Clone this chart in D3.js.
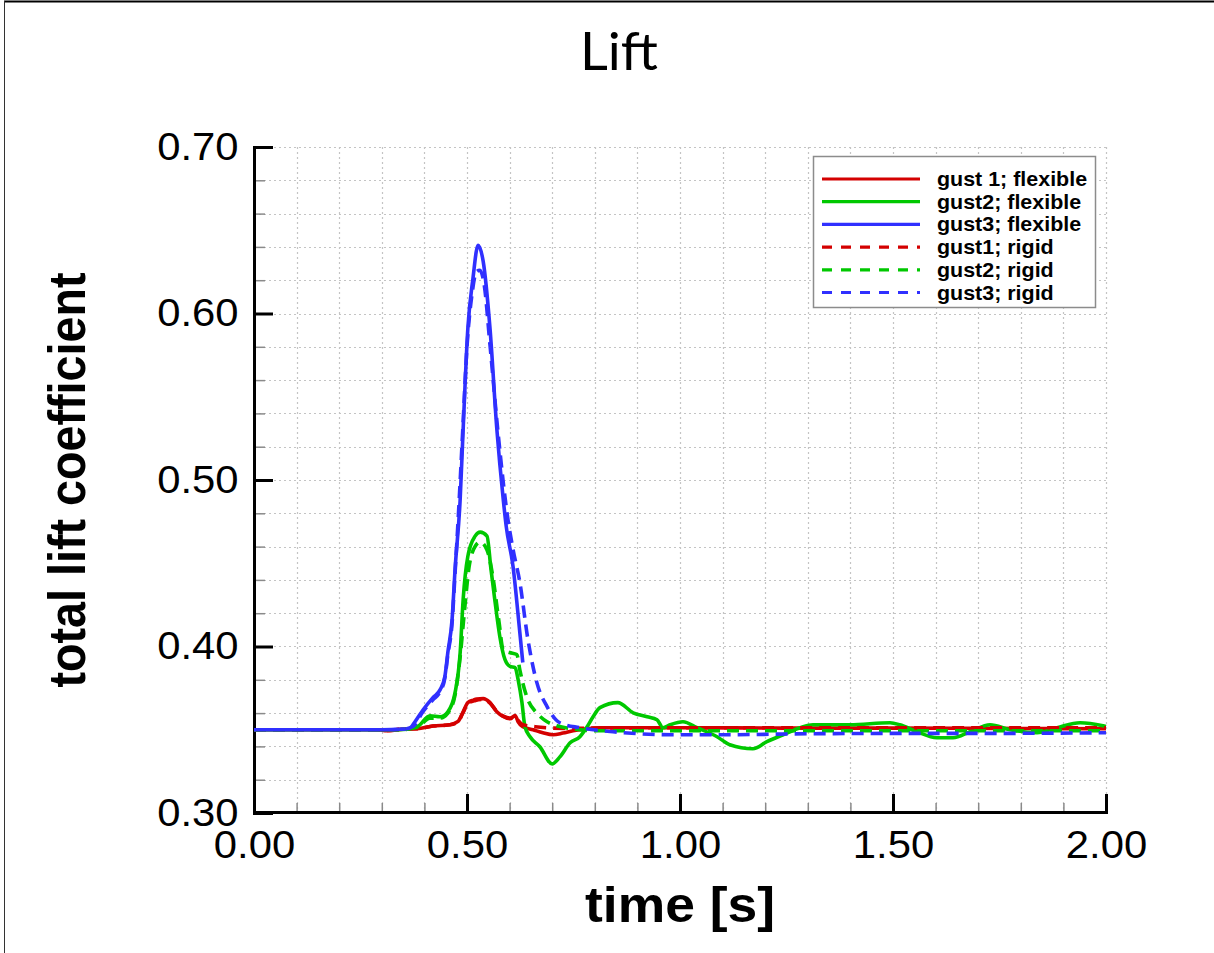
<!DOCTYPE html>
<html>
<head>
<meta charset="utf-8">
<script src="https://cdn.jsdelivr.net/npm/d3@7"></script>
<style>
  body { margin: 0; background: #ffffff; }
  svg { display: block; }
</style>
</head>
<body>
<div class="chart"></div>
<script>

// ---- chart data ----
const xMajorTicks = [0.00, 0.50, 1.00, 1.50, 2.00];
const yMajorTicks = [0.30, 0.40, 0.50, 0.60, 0.70];

const seriesNames = ["gust 1; flexible", "gust2; flexible", "gust3; flexible",
                     "gust1; rigid", "gust2; rigid", "gust3; rigid"];

// [time (s), total lift coefficient]
const gust1Flexible = [
  [0.00, 0.3500], [0.29, 0.3500], [0.312, 0.3494], [0.35, 0.3504], [0.383, 0.3506],
  [0.42, 0.3522], [0.46, 0.3530], [0.479, 0.3550], [0.491, 0.3608], [0.502, 0.3663],
  [0.515, 0.3678], [0.523, 0.3684], [0.538, 0.3687], [0.554, 0.3663], [0.570, 0.3608],
  [0.585, 0.3580], [0.601, 0.3566], [0.613, 0.3586], [0.620, 0.3548], [0.631, 0.3518],
  [0.655, 0.3500], [0.678, 0.3482], [0.702, 0.3470], [0.725, 0.3480], [0.749, 0.3494],
  [0.782, 0.3506], [0.812, 0.3512], [1.00, 0.3512], [1.25, 0.3510], [1.50, 0.3510],
  [1.75, 0.3508], [2.00, 0.3506]
];

const gust2Flexible = [
  [0.00, 0.3500], [0.34, 0.3500], [0.383, 0.3518], [0.413, 0.3584], [0.437, 0.3578],
  [0.455, 0.3608], [0.472, 0.3723], [0.484, 0.3964], [0.491, 0.4283], [0.502, 0.4542],
  [0.519, 0.4663], [0.531, 0.4687], [0.547, 0.4663], [0.556, 0.4470], [0.566, 0.4265],
  [0.577, 0.4060], [0.589, 0.3922], [0.601, 0.3880], [0.613, 0.3873], [0.620, 0.3801],
  [0.629, 0.3663], [0.636, 0.3518], [0.648, 0.3458], [0.671, 0.3398], [0.700, 0.3295],
  [0.718, 0.3337], [0.742, 0.3422], [0.765, 0.3458], [0.782, 0.3518], [0.796, 0.3578],
  [0.812, 0.3633], [0.854, 0.3663], [0.890, 0.3602], [0.923, 0.3578], [0.946, 0.3560],
  [0.960, 0.3512], [0.977, 0.3530], [1.007, 0.3548], [1.040, 0.3512], [1.087, 0.3458],
  [1.117, 0.3410], [1.171, 0.3386], [1.204, 0.3428], [1.242, 0.3470], [1.282, 0.3512],
  [1.312, 0.3530], [1.399, 0.3530], [1.493, 0.3542], [1.516, 0.3530], [1.556, 0.3488],
  [1.603, 0.3452], [1.641, 0.3452], [1.681, 0.3488], [1.728, 0.3530], [1.775, 0.3500],
  [1.838, 0.3482], [1.885, 0.3512], [1.939, 0.3542], [1.993, 0.3524], [2.00, 0.3520]
];

const gust3Flexible = [
  [0.00, 0.3500], [0.30, 0.3500], [0.34, 0.3503], [0.366, 0.3506], [0.373, 0.3530],
  [0.397, 0.3620], [0.420, 0.3693], [0.437, 0.3741], [0.448, 0.3819], [0.455, 0.3964],
  [0.465, 0.4163], [0.472, 0.4464], [0.484, 0.4886], [0.491, 0.5307], [0.502, 0.5910],
  [0.514, 0.6211], [0.526, 0.6410], [0.538, 0.6313], [0.554, 0.5910], [0.570, 0.5307],
  [0.585, 0.4886], [0.592, 0.4723], [0.608, 0.4482], [0.624, 0.4084], [0.631, 0.3904]
];

const gust1Rigid = [
  [0.00, 0.3500], [0.29, 0.3500], [0.312, 0.3496], [0.35, 0.3504], [0.383, 0.3506],
  [0.42, 0.3522], [0.46, 0.3530], [0.479, 0.3548], [0.491, 0.3604], [0.502, 0.3658],
  [0.52, 0.3676], [0.538, 0.3682], [0.554, 0.3660], [0.570, 0.3610], [0.585, 0.3582],
  [0.601, 0.3570], [0.613, 0.3580], [0.620, 0.3556], [0.631, 0.3530], [0.66, 0.3518],
  [0.70, 0.3510], [0.75, 0.3508], [0.80, 0.3510], [1.00, 0.3512], [1.50, 0.3512],
  [2.00, 0.3512]
];

const gust2Rigid = [
  [0.00, 0.3500], [0.34, 0.3500], [0.383, 0.3515], [0.413, 0.3570], [0.437, 0.3570],
  [0.455, 0.3600], [0.472, 0.3710], [0.484, 0.3940], [0.495, 0.4240], [0.505, 0.4480],
  [0.520, 0.4605], [0.531, 0.4627], [0.547, 0.4580], [0.560, 0.4430], [0.575, 0.4150],
  [0.585, 0.3980], [0.600, 0.3964], [0.617, 0.3952], [0.624, 0.3860], [0.631, 0.3780],
  [0.643, 0.3680], [0.664, 0.3600], [0.688, 0.3548], [0.711, 0.3524], [0.750, 0.3505],
  [0.80, 0.3494], [1.00, 0.3494], [1.50, 0.3494], [2.00, 0.3494]
];

const gust3Rigid = [
  [0.00, 0.3500], [0.30, 0.3500], [0.35, 0.3503], [0.373, 0.3520], [0.397, 0.3610],
  [0.420, 0.3680], [0.437, 0.3730], [0.448, 0.3810], [0.455, 0.3950], [0.465, 0.4140],
  [0.472, 0.4440], [0.480, 0.4800], [0.490, 0.5300], [0.500, 0.5800], [0.512, 0.6120],
  [0.522, 0.6250], [0.530, 0.6260], [0.540, 0.6180], [0.554, 0.5810], [0.572, 0.5307],
  [0.596, 0.4765], [0.608, 0.4584], [0.624, 0.4386], [0.643, 0.4042], [0.664, 0.3783],
  [0.688, 0.3639], [0.718, 0.3542], [0.765, 0.3512], [0.843, 0.3488], [0.984, 0.3470],
  [1.10, 0.3470], [1.30, 0.3476], [1.50, 0.3478], [1.70, 0.3478], [2.00, 0.3482]
];

const seriesData = [gust1Flexible, gust2Flexible, gust3Flexible,
                    gust1Rigid, gust2Rigid, gust3Rigid];

// styles
const seriesColors = ["#d40000", "#00c800", "#3030ff", "#d40000", "#00c800", "#3030ff"];
const seriesDashed = [false, false, false, true, true, true];

(function() {

  let svgContainer = "";
  const fontFamily = "'Liberation Sans', Arial, Helvetica, sans-serif";

  window.onload = function() {
    svgContainer = d3.select('.chart').append('svg')
      .attr('width', 1214)
      .attr('height', 953);

    // page frame (top and left edge of the slide)
    svgContainer.append('line')
      .attr('x1', 4).attr('y1', 1.5).attr('x2', 1214).attr('y2', 1.5)
      .attr('stroke', '#000').attr('stroke-width', 2);
    svgContainer.append('line')
      .attr('x1', 4.5).attr('y1', 1).attr('x2', 4.5).attr('y2', 953)
      .attr('stroke', '#333').attr('stroke-width', 1);

    svgContainer.append('text')
      .attr('x', 619)
      .attr('y', 70)
      .attr('text-anchor', 'middle')
      .attr('font-family', "Lato, 'Open Sans', sans-serif")
      .attr('font-size', 52)
      .attr('textLength', 78)
      .attr('lengthAdjust', 'spacingAndGlyphs')
      .text('Lift');

    let scales = drawAxes();
    plotData(scales);
    drawLegend();
  }

  function drawAxes() {
    let xScale = d3.scaleLinear().domain([0, 2]).range([254, 1106]);
    let yScale = d3.scaleLinear().domain([0.30, 0.70]).range([813, 147]);

    let xGrid = d3.range(1, 21).map((i) => i / 10);
    let yGrid = d3.range(1, 21).map((i) => 0.30 + i * 0.02);

    // dotted grid
    let grid = svgContainer.append('g')
      .attr('stroke', '#c4c4c4')
      .attr('stroke-width', 1.2)
      .attr('stroke-dasharray', '2,3');
    grid.selectAll('.vgrid')
      .data(xGrid)
      .enter()
      .append('line')
        .attr('x1', (d) => Math.round(xScale(d)) + 0.5)
        .attr('x2', (d) => Math.round(xScale(d)) + 0.5)
        .attr('y1', 147)
        .attr('y2', 813);
    grid.selectAll('.hgrid')
      .data(yGrid)
      .enter()
      .append('line')
        .attr('y1', (d) => Math.round(yScale(d)) + 0.5)
        .attr('y2', (d) => Math.round(yScale(d)) + 0.5)
        .attr('x1', 254)
        .attr('x2', 1106);

    // minor ticks
    let xMinor = xGrid.filter((d) => Math.abs(d * 2 - Math.round(d * 2)) > 1e-6);
    let yMinor = yGrid.filter((d) => Math.abs(d * 10 - Math.round(d * 10)) > 1e-6);

    let xMinorAxis = svgContainer.append('g')
      .attr('transform', 'translate(0, 813)')
      .call(d3.axisBottom(xScale).tickValues(xMinor).tickSize(-10).tickFormat(''));
    xMinorAxis.select('.domain').remove();
    xMinorAxis.selectAll('line').attr('stroke', '#8a8a8a').attr('stroke-width', 1.5);

    let yMinorAxis = svgContainer.append('g')
      .attr('transform', 'translate(254, 0)')
      .call(d3.axisLeft(yScale).tickValues(yMinor).tickSize(-11).tickFormat(''));
    yMinorAxis.select('.domain').remove();
    yMinorAxis.selectAll('line').attr('stroke', '#8a8a8a').attr('stroke-width', 1.5);

    // major axes
    let xAxis = d3.axisBottom(xScale)
      .tickValues(xMajorTicks)
      .tickSize(-18)
      .tickSizeOuter(0)
      .tickPadding(19)
      .tickFormat(d3.format('.2f'));
    let xAxisG = svgContainer.append('g')
      .attr('transform', 'translate(0, 812)')
      .call(xAxis);

    let yAxis = d3.axisLeft(yScale)
      .tickValues(yMajorTicks)
      .tickSize(-19)
      .tickSizeOuter(0)
      .tickPadding(14)
      .tickFormat(d3.format('.2f'));
    let yAxisG = svgContainer.append('g')
      .attr('transform', 'translate(254, 0)')
      .call(yAxis);

    [xAxisG, yAxisG].forEach((g) => {
      g.attr('font-family', fontFamily).attr('font-size', 38);
      g.select('.domain')
        .attr('stroke', '#000')
        .attr('stroke-width', 3)
        .attr('stroke-linecap', 'square');
      g.selectAll('.tick line').attr('stroke', '#000').attr('stroke-width', 3);
      g.selectAll('.tick text')
        .attr('fill', '#000')
        .attr('transform', 'scale(1.1,1)');
    });

    // axis titles
    svgContainer.append('text')
      .attr('x', 680)
      .attr('y', 922)
      .attr('text-anchor', 'middle')
      .attr('font-family', fontFamily)
      .attr('font-weight', 'bold')
      .attr('font-size', 50)
      .attr('textLength', 190)
      .attr('lengthAdjust', 'spacingAndGlyphs')
      .text('time [s]');

    svgContainer.append('text')
      .attr('transform', 'translate(85, 480)rotate(-90)')
      .attr('text-anchor', 'middle')
      .attr('font-family', fontFamily)
      .attr('font-weight', 'bold')
      .attr('font-size', 52)
      .attr('textLength', 415)
      .attr('lengthAdjust', 'spacingAndGlyphs')
      .text('total lift coefficient');

    return { x: xScale, y: yScale };
  }

  // all six curves
  function plotData(scale) {
    let line = d3.line()
      .x((d) => scale.x(d[0]))
      .y((d) => scale.y(d[1]))
      .curve(d3.curveMonotoneX);

    svgContainer.append('g')
      .selectAll('.curve')
      .data(seriesData)
      .enter()
      .append('path')
        .attr('class', 'curve')
        .attr('d', line)
        .attr('fill', 'none')
        .attr('stroke', (d, i) => seriesColors[i])
        .attr('stroke-width', 3.6)
        .attr('stroke-linejoin', 'round')
        .attr('stroke-dasharray', (d, i) => seriesDashed[i] ? '12,7' : null);
  }

  function drawLegend() {
    let legend = svgContainer.append('g');

    legend.append('rect')
      .attr('x', 813.5)
      .attr('y', 156.5)
      .attr('width', 282)
      .attr('height', 151)
      .attr('fill', '#fff')
      .attr('stroke', '#8c8c8c')
      .attr('stroke-width', 1.5);

    let rows = legend.selectAll('.entry')
      .data(seriesNames)
      .enter()
      .append('g')
        .attr('transform', (d, i) => 'translate(0,' + (179 + i * 22.7) + ')');

    rows.append('line')
      .attr('x1', 822)
      .attr('x2', 920)
      .attr('stroke', (d, i) => seriesColors[i])
      .attr('stroke-width', 3.2)
      .attr('stroke-dasharray', (d, i) => seriesDashed[i] ? '10,9' : null);

    rows.append('text')
      .attr('transform', 'translate(937, 7)scale(1.1,1)')
      .attr('font-family', fontFamily)
      .attr('font-weight', 'bold')
      .attr('font-size', 19.5)
      .text((d) => d);
  }

})();
</script>
</body>
</html>
